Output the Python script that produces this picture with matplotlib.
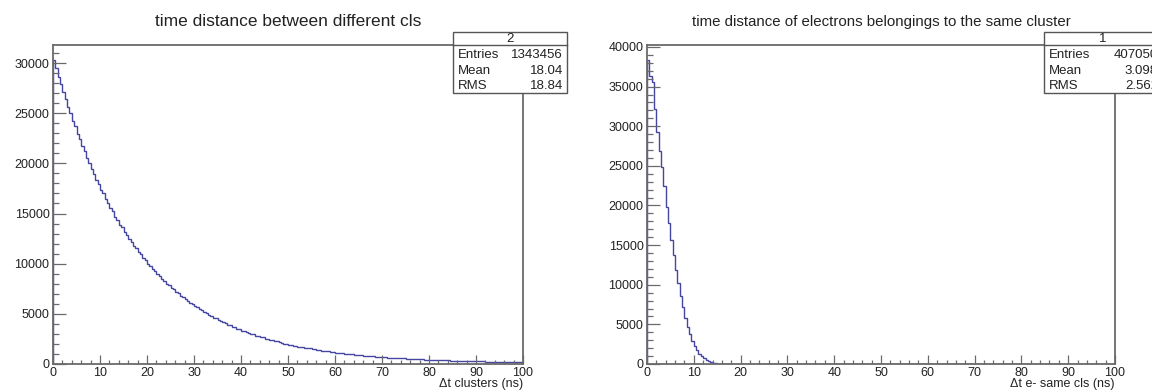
import numpy as np
import matplotlib.pyplot as plt
from matplotlib.patches import Rectangle
from matplotlib.lines import Line2D
from matplotlib.ticker import MultipleLocator

plt.rcParams['font.family'] = ['Liberation Sans', 'DejaVu Sans']

# 0.5 ns bins from 0 to 100 ns
bin_edges = np.linspace(0, 100, 201)

# time distance between different clusters (counts per bin)
cls_counts = [
    30300, 29550, 28610, 27950, 27080, 26450, 25610, 25040, 24230, 23700,
    22950, 22420, 21700, 21210, 20520, 20080, 19400, 18980, 18350, 17960,
    17350, 17010, 16400, 16080, 15530, 15210, 14690, 14400, 13900, 13630,
    13150, 12900, 12450, 12200, 11770, 11540, 11150, 10920, 10530, 10330,
    9970, 9780, 9430, 9260, 8930, 8760, 8460, 8290, 8000, 7850,
    7580, 7440, 7170, 7050, 6800, 6670, 6440, 6320, 6090, 5990,
    5770, 5670, 5460, 5370, 5170, 5090, 4890, 4820, 4630, 4560,
    4380, 4310, 4150, 4090, 3920, 3870, 3710, 3660, 3520, 3470,
    3330, 3280, 3150, 3110, 2990, 2950, 2820, 2790, 2680, 2650,
    2540, 2510, 2400, 2380, 2270, 2250, 2150, 2140, 2040, 2020,
    1940, 1920, 1840, 1820, 1740, 1720, 1650, 1630, 1560, 1550,
    1480, 1470, 1400, 1390, 1320, 1320, 1250, 1250, 1190, 1180,
    1120, 1110, 1070, 1060, 1015, 1005, 965, 955, 925, 905,
    872, 860, 830, 818, 790, 778, 751, 740, 713, 705,
    678, 668, 645, 638, 615, 608, 586, 580, 558, 552,
    533, 526, 508, 502, 484, 479, 461, 456, 439, 434,
    418, 414, 400, 396, 382, 378, 366, 362, 350, 346,
    334, 331, 320, 317, 306, 303, 292, 290, 280, 278,
    268, 267, 257, 256, 247, 246, 237, 236, 228, 227,
    219, 218, 210, 209, 202, 201, 194, 193, 187, 185,
]

# time distance of electrons in the same cluster (counts per bin)
same_cls_counts = [
    38300, 36300, 35600, 32200, 29300, 26900, 24800, 22500, 19800, 17800,
    15600, 13700, 11900, 10200, 8600, 7200, 5800, 4700, 3750, 2950,
    2300, 1750, 1300, 960, 700, 500, 340, 230, 150, 95,
    60, 36, 22, 13, 8, 4, 2,
]
same_cls_counts = same_cls_counts + [0] * (200 - len(same_cls_counts))

titles = ["time distance between different cls",
          "time distance of electrons belongings to the same cluster"]
xlabels = ["\u0394t clusters (ns)", "\u0394t e- same cls (ns)"]
stat_ids = ["2", "1"]
stat_names = ["Entries", "Mean", "RMS"]
stat_values = [["1343456", "18.04", "18.84"],
               ["407050", "3.098", "2.562"]]

W, H = 1152, 391
def fx(px):
    return px / W
def fy(py):
    return 1 - py / H

hist_col = '#4545a2'
frame_col = '#6a6a6a'
text_col = '#222222'

fig = plt.figure(figsize=(11.52, 3.91), dpi=100)

panels = [
    dict(counts=cls_counts, x0=53, x1=523, ymax=31800, tsize=12.5, box=(453, 567)),
    dict(counts=same_cls_counts, x0=647, x1=1115, ymax=40250, tsize=10.8, box=(1044, 1162)),
]
top, bottom = 45, 364

for i, p in enumerate(panels):
    ax = fig.add_axes([fx(p['x0']), fy(bottom), fx(p['x1'] - p['x0']), (bottom - top) / H])
    ax.stairs(p['counts'], bin_edges, color=hist_col, lw=1.0)
    ax.set_xlim(0, 100)
    ax.set_ylim(0, p['ymax'])
    ax.xaxis.set_major_locator(MultipleLocator(10))
    ax.xaxis.set_minor_locator(MultipleLocator(2))
    ax.yaxis.set_major_locator(MultipleLocator(5000))
    ax.yaxis.set_minor_locator(MultipleLocator(1000))
    ax.tick_params(axis='y', which='major', direction='in', length=9, width=0.9,
                   color=frame_col, labelsize=9, labelcolor=text_col, pad=2.5)
    ax.tick_params(axis='y', which='minor', direction='in', length=4.5, width=0.9, color=frame_col)
    ax.tick_params(axis='x', which='major', direction='in', length=6.5, width=0.9,
                   color=frame_col, labelsize=9, labelcolor=text_col, pad=2)
    ax.tick_params(axis='x', which='minor', direction='in', length=3.2, width=0.9, color=frame_col)
    for s in ax.spines.values():
        s.set_color(frame_col)
        s.set_linewidth(1.3)
    fig.text(fx(p['x1']), fy(384), xlabels[i], ha='right', va='center',
             fontsize=9, color=text_col)
    fig.text(fx((p['x0'] + p['x1']) / 2), fy(22), titles[i], ha='center', va='center',
             fontsize=p['tsize'], color=text_col)

    # stats box
    bl, br = p['box']
    fig.add_artist(Rectangle((fx(bl), fy(93)), fx(br - bl), (93 - 32) / H,
                             transform=fig.transFigure, facecolor='white',
                             edgecolor='#555555', lw=1.0, zorder=10))
    fig.add_artist(Line2D([fx(bl), fx(br)], [fy(45), fy(45)], transform=fig.transFigure,
                          color='#555555', lw=1.0, zorder=11))
    fig.text(fx((bl + br) / 2), fy(39), stat_ids[i], ha='center', va='center',
             fontsize=9.5, color=text_col, zorder=12)
    for j, name in enumerate(stat_names):
        yy = fy(55 + 15.5 * j)
        fig.text(fx(bl + 5), yy, name, ha='left', va='center', fontsize=9.5,
                 color=text_col, zorder=12)
        fig.text(fx(br - 4), yy, stat_values[i][j], ha='right', va='center',
                 fontsize=9.5, color=text_col, zorder=12)

fig.savefig("out.png", dpi=100)
